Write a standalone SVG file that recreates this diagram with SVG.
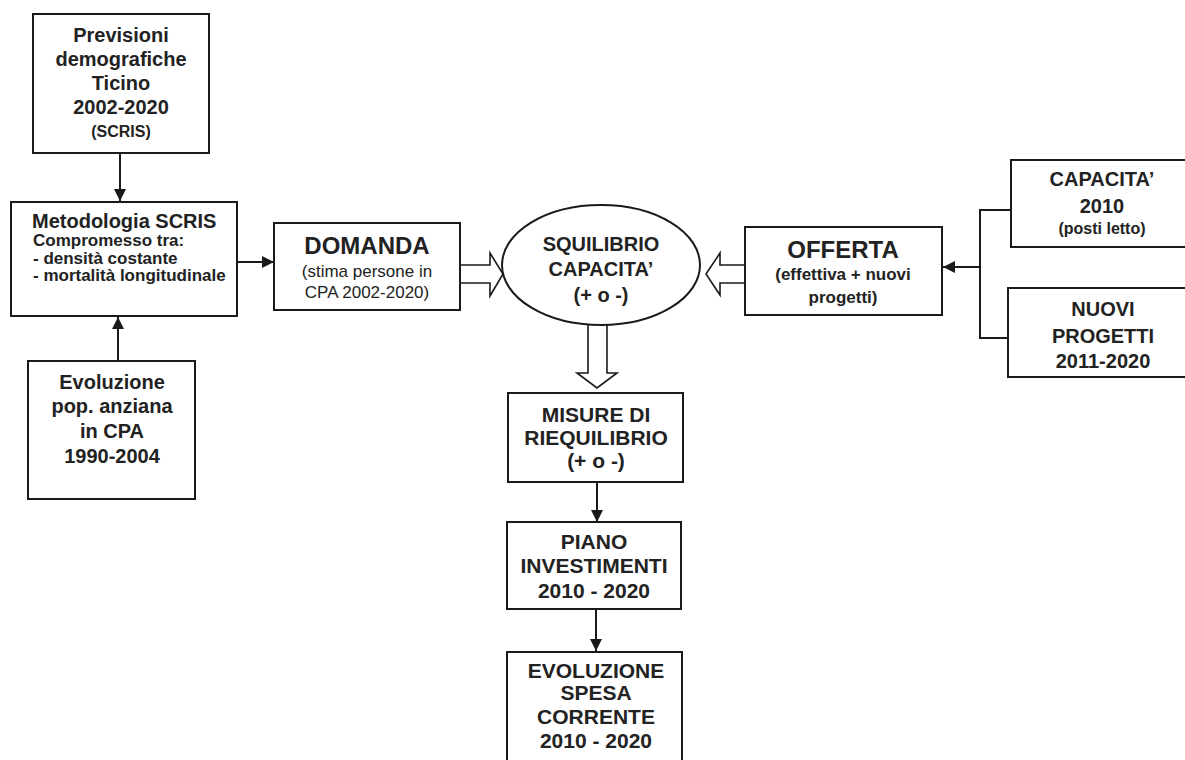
<svg xmlns="http://www.w3.org/2000/svg" width="1185" height="760" viewBox="0 0 1185 760">
<defs>
<style>
.box{fill:#fff;stroke:#1a1a1a;stroke-width:2}
.ln{fill:none;stroke:#1a1a1a;stroke-width:2}
.hol{fill:#fff;stroke:#1a1a1a;stroke-width:1.6;stroke-linejoin:miter}
text{font-family:"Liberation Sans",Arial,sans-serif;fill:#222;font-weight:bold}
.c{text-anchor:middle}
.reg{font-weight:normal}
</style>
<marker id="ah" viewBox="0 0 10 10" refX="10" refY="5" markerWidth="6" markerHeight="6" orient="auto" markerUnits="strokeWidth">
<path d="M0,0 L10,5 L0,10 z" fill="#1a1a1a"/>
</marker>
</defs>
<rect width="1185" height="760" fill="#fff"/>

<g id="connectors">
<line class="ln" x1="120" y1="153" x2="120" y2="201" marker-end="url(#ah)"/>
<line class="ln" x1="118" y1="361" x2="118" y2="317" marker-end="url(#ah)"/>
<line class="ln" x1="237" y1="262" x2="274" y2="262" marker-end="url(#ah)"/>
<path class="hol" d="M460,265 H490 V253 L503,274 L490,296 V283 H460"/>
<path class="hol" d="M745,265 H720 V253 L706,274 L720,295 V283 H745"/>
<path class="hol" d="M588,325 V373 H577 L597,388 L617,373 H607 V325"/>
<line class="ln" x1="597" y1="482" x2="597" y2="522" marker-end="url(#ah)"/>
<line class="ln" x1="596" y1="609" x2="596" y2="651" marker-end="url(#ah)"/>
<path class="ln" d="M1010,210 H980 V338 H1008"/>
<line class="ln" x1="980" y1="267" x2="943" y2="267" marker-end="url(#ah)"/>
</g>

<g id="previsioni">
<rect class="box" x="33" y="14" width="176" height="139"/>
<text class="c" x="121" y="42" font-size="20">Previsioni</text>
<text class="c" x="121" y="66" font-size="20">demografiche</text>
<text class="c" x="121" y="90" font-size="20">Ticino</text>
<text class="c" x="121" y="114" font-size="20">2002-2020</text>
<text class="c" x="121" y="137" font-size="16">(SCRIS)</text>
</g>

<g id="metodologia">
<rect class="box" x="11" y="202" width="226" height="114"/>
<text x="32" y="228" font-size="20">Metodologia SCRIS</text>
<text x="33" y="246" font-size="17">Compromesso tra:</text>
<text x="33" y="264" font-size="17">- densità costante</text>
<text x="33" y="281" font-size="17">- mortalità longitudinale</text>
</g>

<g id="evoluzione-pop">
<rect class="box" x="28" y="361" width="167" height="138"/>
<text class="c" x="112" y="389" font-size="20">Evoluzione</text>
<text class="c" x="112" y="413" font-size="20">pop. anziana</text>
<text class="c" x="112" y="438" font-size="20">in CPA</text>
<text class="c" x="112" y="463" font-size="20">1990-2004</text>
</g>

<g id="domanda">
<rect class="box" x="274" y="223" width="186" height="87"/>
<text class="c" x="367" y="254" font-size="24">DOMANDA</text>
<text class="c reg" x="367" y="277" font-size="17">(stima persone in</text>
<text class="c reg" x="367" y="298" font-size="17">CPA 2002-2020)</text>
</g>

<g id="squilibrio">
<ellipse class="box" cx="601" cy="265" rx="99" ry="60"/>
<text class="c" x="601" y="251" font-size="20">SQUILIBRIO</text>
<text class="c" x="601" y="276" font-size="20">CAPACITA’</text>
<text class="c" x="601" y="302" font-size="20">(+ o -)</text>
</g>

<g id="offerta">
<rect class="box" x="745" y="227" width="197" height="88"/>
<text class="c" x="843" y="258" font-size="24">OFFERTA</text>
<text class="c" x="843" y="280" font-size="17">(effettiva + nuovi</text>
<text class="c" x="843" y="303" font-size="17">progetti)</text>
</g>

<g id="capacita">
<rect class="box" x="1011" y="160" width="190" height="87"/>
<text class="c" x="1102" y="186" font-size="20">CAPACITA’</text>
<text class="c" x="1102" y="213" font-size="20">2010</text>
<text class="c" x="1102" y="234" font-size="16">(posti letto)</text>
</g>

<g id="nuovi">
<rect class="box" x="1008" y="288" width="190" height="89"/>
<text class="c" x="1103" y="316" font-size="20">NUOVI</text>
<text class="c" x="1103" y="343" font-size="20">PROGETTI</text>
<text class="c" x="1103" y="368" font-size="20">2011-2020</text>
</g>

<g id="misure">
<rect class="box" x="508" y="393" width="175" height="89"/>
<text class="c" x="596" y="422" font-size="21">MISURE DI</text>
<text class="c" x="596" y="445" font-size="21">RIEQUILIBRIO</text>
<text class="c" x="596" y="468" font-size="21">(+ o -)</text>
</g>

<g id="piano">
<rect class="box" x="507" y="522" width="174" height="87"/>
<text class="c" x="594" y="549" font-size="21">PIANO</text>
<text class="c" x="594" y="573" font-size="21">INVESTIMENTI</text>
<text class="c" x="594" y="598" font-size="21">2010 - 2020</text>
</g>

<g id="evoluzione-spesa">
<rect class="box" x="507" y="652" width="175" height="120"/>
<text class="c" x="596" y="678" font-size="21">EVOLUZIONE</text>
<text class="c" x="596" y="700" font-size="21">SPESA</text>
<text class="c" x="596" y="724" font-size="21">CORRENTE</text>
<text class="c" x="596" y="748" font-size="21">2010 - 2020</text>
</g>
</svg>
